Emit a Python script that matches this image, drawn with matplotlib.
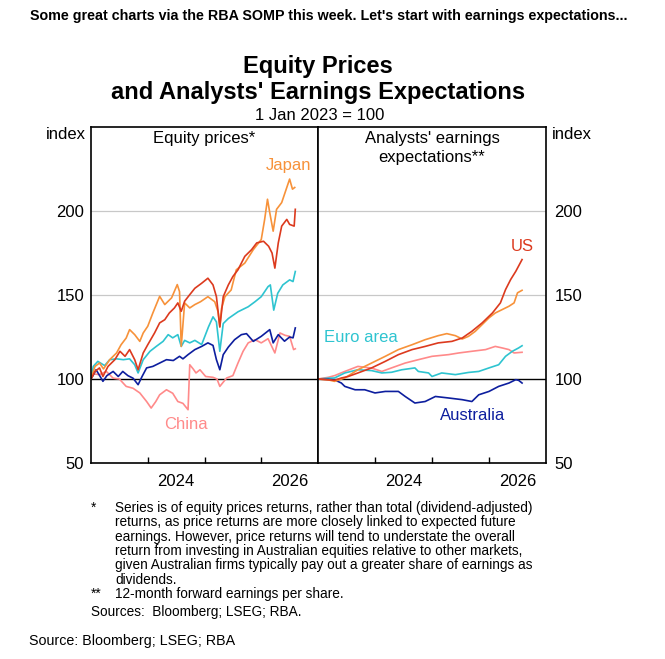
import numpy as np
import matplotlib.pyplot as plt

plt.rcParams['font.family'] = ['Liberation Sans', 'DejaVu Sans']

# ---- Equity prices (1 Jan 2023 = 100), x in fractional years
eq_t_japan = [2023.0, 2023.07, 2023.15, 2023.22, 2023.33, 2023.45, 2023.53, 2023.62, 2023.68, 2023.77,
              2023.86, 2023.92, 2024.0, 2024.09, 2024.21, 2024.30, 2024.42, 2024.52, 2024.56, 2024.59,
              2024.65, 2024.74, 2024.83, 2024.93, 2025.06, 2025.18, 2025.24, 2025.27, 2025.30, 2025.36,
              2025.47, 2025.56, 2025.71, 2025.86, 2026.0, 2026.06, 2026.11, 2026.15, 2026.21, 2026.27,
              2026.36, 2026.42, 2026.50, 2026.55, 2026.59]
eq_japan = [100, 107.5, 109.5, 106, 111.5, 115.5, 120.4, 124.4, 129.4, 126.4,
            122.4, 127.4, 131.4, 139.3, 149.2, 144.3, 148.3, 156.2, 152, 119.4,
            145.3, 142.3, 144.3, 146, 149, 146, 140, 131, 142, 149,
            153, 165, 169, 177, 183, 195, 207, 199, 188, 201,
            205, 211, 219, 213, 214]

eq_t_us = [2023.0, 2023.07, 2023.15, 2023.21, 2023.30, 2023.42, 2023.51, 2023.60, 2023.68, 2023.77,
           2023.83, 2023.92, 2024.0, 2024.12, 2024.21, 2024.30, 2024.38, 2024.47, 2024.53, 2024.59,
           2024.65, 2024.74, 2024.83, 2024.95, 2025.06, 2025.15, 2025.21, 2025.27, 2025.33, 2025.42,
           2025.50, 2025.59, 2025.71, 2025.83, 2025.92, 2026.04, 2026.13, 2026.19, 2026.24, 2026.30,
           2026.36, 2026.45, 2026.50, 2026.58, 2026.60]
eq_us = [100, 104.5, 106.6, 101.5, 107.5, 111.5, 116.5, 113.5, 117.5, 111.5,
         105.5, 115.5, 120.4, 127.4, 133.4, 135.3, 139.3, 142.3, 145.3, 140.3,
         146.3, 150.2, 154, 157, 160, 156, 149, 131, 149, 156,
         161, 165, 173, 177, 181, 182, 179, 175, 166, 181,
         191, 195, 192, 191, 201]

eq_t_euro = [2023.0, 2023.04, 2023.12, 2023.24, 2023.33, 2023.45, 2023.57, 2023.68, 2023.77, 2023.83,
             2023.92, 2024.04, 2024.15, 2024.27, 2024.36, 2024.44, 2024.53, 2024.59, 2024.65, 2024.74,
             2024.83, 2024.95, 2025.07, 2025.15, 2025.21, 2025.27, 2025.33, 2025.42, 2025.59, 2025.77,
             2025.89, 2026.0, 2026.12, 2026.16, 2026.22, 2026.29, 2026.38, 2026.50, 2026.56, 2026.60]
eq_euro = [100, 107.5, 110.5, 108, 111.5, 112, 111.5, 112, 108.5, 103.6,
           111.5, 116.5, 119.4, 122.4, 126.4, 124.5, 126.4, 119.4, 123, 121.5,
           123, 120.5, 131, 137, 134, 116.5, 133, 136, 140, 143,
           146, 149, 155, 156, 141, 151, 156, 159, 158, 164]

eq_t_aus = [2023.0, 2023.09, 2023.17, 2023.21, 2023.28, 2023.39, 2023.48, 2023.56, 2023.65, 2023.74,
            2023.83, 2023.90, 2023.98, 2024.09, 2024.21, 2024.33, 2024.45, 2024.56, 2024.62, 2024.71,
            2024.83, 2024.95, 2025.06, 2025.15, 2025.21, 2025.27, 2025.33, 2025.42, 2025.53, 2025.65,
            2025.74, 2025.86, 2026.0, 2026.15, 2026.21, 2026.30, 2026.41, 2026.50, 2026.56, 2026.60]
eq_aus = [100, 105.5, 101, 98.6, 102, 104.5, 101.5, 104.5, 102, 100.5,
          96.6, 101.5, 106.6, 107.5, 109.5, 111.5, 111, 113.5, 112, 114.5,
          117.5, 119.4, 121.5, 120, 111.5, 105.5, 114.5, 119, 123.4, 126.4,
          127, 122.4, 125.4, 129.4, 121.5, 126.4, 122.5, 125, 124.5, 130.4]

eq_t_china = [2023.0, 2023.05, 2023.15, 2023.27, 2023.39, 2023.50, 2023.62, 2023.74, 2023.86, 2023.98,
              2024.06, 2024.14, 2024.21, 2024.33, 2024.44, 2024.53, 2024.62, 2024.71, 2024.74, 2024.80,
              2024.85, 2024.92, 2025.02, 2025.15, 2025.22, 2025.27, 2025.39, 2025.50, 2025.59, 2025.68,
              2025.77, 2025.89, 2026.0, 2026.12, 2026.24, 2026.33, 2026.42, 2026.50, 2026.57, 2026.60]
eq_china = [100, 103, 102.6, 104.5, 100.5, 100, 95.6, 94.5, 91.7, 86.6,
            82.7, 86.5, 90.6, 93.6, 91.5, 86.6, 85.5, 81.7, 108.5, 106,
            103.6, 105.5, 101.5, 101, 100, 95.6, 100.6, 102, 109.5, 116.5,
            121.5, 123.4, 121.5, 124, 115.5, 127.4, 126, 125.4, 117.5, 118]

# ---- Analysts' 12-month forward earnings expectations
ee_t_us = [2023.0, 2023.18, 2023.29, 2023.41, 2023.53, 2023.70, 2023.94, 2024.18, 2024.41, 2024.65,
           2024.88, 2025.11, 2025.35, 2025.53, 2025.70, 2025.88, 2026.06, 2026.20, 2026.29, 2026.38,
           2026.47, 2026.58]
ee_us = [100, 99.5, 99.2, 100.6, 101.5, 103.6, 106.6, 110.5, 114.5, 117.5,
         119.4, 121.5, 122.4, 124.4, 128.4, 133.4, 139.3, 145.3, 153.2, 159.2,
         164.1, 171.1]

ee_t_japan = [2023.0, 2023.18, 2023.29, 2023.47, 2023.70, 2023.94, 2024.18, 2024.41, 2024.65, 2024.88,
              2025.11, 2025.26, 2025.41, 2025.53, 2025.64, 2025.76, 2025.88, 2026.0, 2026.11, 2026.23,
              2026.35, 2026.44, 2026.50, 2026.58]
ee_japan = [100, 99.5, 98.6, 100.6, 105.5, 109.5, 113.5, 117.5, 120.4, 123.4,
            125.8, 127, 125.8, 123.8, 125.4, 128.4, 132.4, 136.4, 139.3, 141.3,
            143.3, 145.3, 151.3, 152.8]

ee_t_china = [2023.0, 2023.18, 2023.29, 2023.47, 2023.70, 2023.94, 2024.12, 2024.29, 2024.53, 2024.76,
              2025.0, 2025.29, 2025.47, 2025.70, 2025.94, 2026.11, 2026.23, 2026.35, 2026.44, 2026.58]
ee_china = [100, 101, 102, 104.5, 107.5, 106.5, 104.5, 106.6, 109.5, 111.5,
            113.5, 114.5, 115.5, 116.5, 117.5, 119.4, 118.5, 117.5, 115.5, 115.9]

ee_t_euro = [2023.0, 2023.18, 2023.29, 2023.47, 2023.70, 2023.94, 2024.12, 2024.29, 2024.47, 2024.70,
             2024.76, 2024.94, 2025.0, 2025.17, 2025.41, 2025.64, 2025.82, 2026.0, 2026.17, 2026.29,
             2026.41, 2026.52, 2026.58]
ee_euro = [100, 100.5, 100.6, 103.6, 105.5, 105, 103.6, 104, 105.5, 106.6,
           104.5, 103.6, 101.5, 103.6, 102.6, 103.9, 104.5, 106.6, 108.5, 113.5,
           116.5, 118.5, 119.8]

ee_t_aus = [2023.0, 2023.18, 2023.29, 2023.41, 2023.47, 2023.65, 2023.82, 2024.0, 2024.18, 2024.41,
            2024.53, 2024.70, 2024.88, 2025.06, 2025.29, 2025.53, 2025.70, 2025.82, 2026.0, 2026.17,
            2026.35, 2026.47, 2026.52, 2026.58]
ee_aus = [100, 99.8, 99.5, 97.6, 95.6, 93.6, 93.6, 91.7, 92.6, 92.6,
          89.6, 85.7, 86.6, 89.6, 88.7, 87.7, 86.6, 90.6, 92.6, 95.6,
          97.6, 99.6, 99.2, 97.6]

y_ticks = [50, 100, 150, 200]
x_labels = ['2024', '2026']

c_japan = '#F7923A'
c_us = '#DC3A1E'
c_euro = '#2EC4D0'
c_aus = '#0D1E9E'
c_china = '#FF8A8A'

W, H = 665, 659
fig = plt.figure(figsize=(W / 100, H / 100), dpi=100)


def fx(px):
    return px / W


def fy(py):
    return 1 - py / H


ax1 = fig.add_axes([fx(91), fy(463), (318 - 91) / W, (463 - 127) / H])
ax2 = fig.add_axes([fx(318), fy(463), (546 - 318) / W, (463 - 127) / H])

for ax in (ax1, ax2):
    ax.set_xlim(2023, 2027)
    ax.set_ylim(50, 250)
    ax.set_yticks(y_ticks)
    for g in (150, 200):
        ax.axhline(g, color='#C8C8C8', lw=0.9, zorder=0)
    ax.axhline(100, color='black', lw=1.0, zorder=1)
    ax.set_xticks([2024, 2025, 2026])
    ax.set_xticks([2024.5, 2026.5], minor=True)
    ax.set_xticklabels(x_labels, minor=True)
    ax.tick_params(axis='x', which='major', direction='in', length=4, width=1, labelbottom=False)
    ax.tick_params(axis='x', which='minor', length=0, labelsize=12, pad=8)
    ax.tick_params(axis='y', length=0, labelsize=12, pad=5)
    for s in ax.spines.values():
        s.set_color('black')
        s.set_linewidth(1.2)

ax2.yaxis.tick_right()
ax2.tick_params(axis='y', labelleft=False, labelright=True, length=0, pad=6)

lw = 1.2
ax1.plot(eq_t_china, eq_china, color=c_china, lw=lw)
ax1.plot(eq_t_aus, eq_aus, color=c_aus, lw=lw)
ax1.plot(eq_t_euro, eq_euro, color=c_euro, lw=lw)
ax1.plot(eq_t_japan, eq_japan, color=c_japan, lw=lw)
ax1.plot(eq_t_us, eq_us, color=c_us, lw=lw)

ax2.plot(ee_t_china, ee_china, color=c_china, lw=lw)
ax2.plot(ee_t_euro, ee_euro, color=c_euro, lw=lw)
ax2.plot(ee_t_aus, ee_aus, color=c_aus, lw=lw)
ax2.plot(ee_t_japan, ee_japan, color=c_japan, lw=lw)
ax2.plot(ee_t_us, ee_us, color=c_us, lw=lw)

# series labels
ax1.text(2026.48, 227, 'Japan', color=c_japan, fontsize=12, ha='center', va='center')
ax1.text(2024.68, 73, 'China', color=c_china, fontsize=12, ha='center', va='center')
ax2.text(2023.76, 125, 'Euro area', color=c_euro, fontsize=12, ha='center', va='center')
ax2.text(2025.72, 78, 'Australia', color=c_aus, fontsize=12, ha='center', va='center')
ax2.text(2026.58, 179, 'US', color=c_us, fontsize=12, ha='center', va='center')

# panel titles
ax1.text(0.5, 0.965, 'Equity prices*', transform=ax1.transAxes, fontsize=12, ha='center', va='center')
ax2.text(0.5, 0.9375, "Analysts' earnings\nexpectations**", transform=ax2.transAxes, fontsize=12,
         ha='center', va='center', linespacing=1.3)
ax1.text(-0.022, 0.979, 'index', transform=ax1.transAxes, fontsize=12, ha='right', va='center')
ax2.text(1.026, 0.979, 'index', transform=ax2.transAxes, fontsize=12, ha='left', va='center')

# headings
fig.text(fx(329), fy(16), "Some great charts via the RBA SOMP this week. Let's start with earnings expectations...",
         fontsize=10.3, fontweight='bold', ha='center', va='center')
fig.text(fx(318), fy(66), 'Equity Prices', fontsize=17, fontweight='bold', ha='center', va='center')
fig.text(fx(318), fy(92), "and Analysts' Earnings Expectations", fontsize=17, fontweight='bold',
         ha='center', va='center')
fig.text(fx(320), fy(115), '1 Jan 2023 = 100', fontsize=12, ha='center', va='center')

# footnotes
notes = ['Series is of equity prices returns, rather than total (dividend-adjusted)',
         'returns, as price returns are more closely linked to expected future',
         'earnings. However, price returns will tend to understate the overall',
         'return from investing in Australian equities relative to other markets,',
         'given Australian firms typically pay out a greater share of earnings as',
         'dividends.']
fs_note = 9.8
fig.text(fx(91), fy(508), '*', fontsize=fs_note, ha='left', va='center')
for i, line in enumerate(notes):
    fig.text(fx(115), fy(508 + i * 14.3), line, fontsize=fs_note, ha='left', va='center')
fig.text(fx(91), fy(594), '**', fontsize=fs_note, ha='left', va='center')
fig.text(fx(115), fy(594), '12-month forward earnings per share.', fontsize=fs_note, ha='left', va='center')
fig.text(fx(91), fy(612), 'Sources:  Bloomberg; LSEG; RBA.', fontsize=fs_note, ha='left', va='center')
fig.text(fx(29), fy(641), 'Source: Bloomberg; LSEG; RBA', fontsize=10.3, ha='left', va='center')

fig.savefig('out.png', dpi=100)
